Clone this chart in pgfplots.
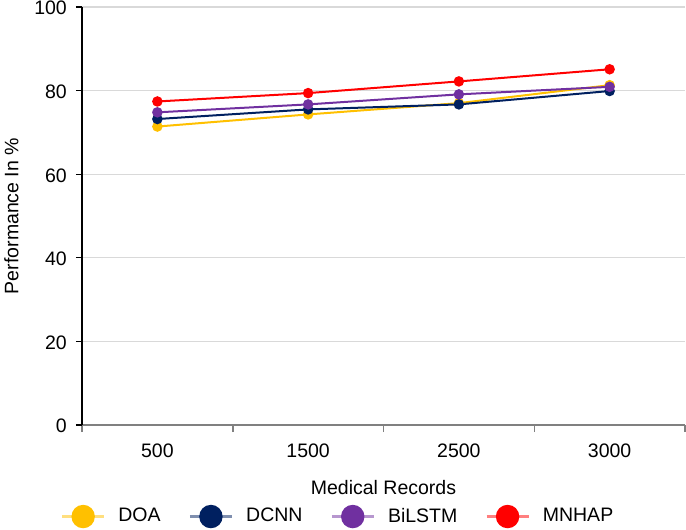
\documentclass[border=0pt]{standalone}
\usepackage{pgfplots}
\pgfplotsset{compat=1.18}
\usepackage{fontspec}
\setmainfont{Liberation Sans}
\definecolor{cDOA}{RGB}{255,192,0}
\definecolor{cDCNN}{RGB}{0,32,96}
\definecolor{cBi}{RGB}{112,48,160}
\definecolor{cMN}{RGB}{255,0,0}
\definecolor{gridc}{RGB}{217,217,217}
\definecolor{axc}{RGB}{128,128,128}
\newcommand{\chfont}{\fontsize{19.5bp}{23bp}\selectfont}
\begin{document}
\chfont
\begin{tikzpicture}
\useasboundingbox (0,0) rectangle (686bp,530bp);
\begin{axis}[
 at={(82bp,105bp)}, anchor=south west,
 scale only axis, width=603bp, height=418bp,
 xmin=-0.5, xmax=3.5, ymin=0, ymax=100,
 axis x line=bottom, axis y line=left,
 x axis line style={axc, line width=2bp, -},
 y axis line style={black, line width=1.2bp, -},
 xtick={0,1,2,3}, xticklabels={500,1500,2500,3000},
 minor xtick={-0.5,0.5,1.5,2.5,3.5},
 ytick={0,20,40,60,80,100},
 tick align=outside,
 major tick length=6bp, minor tick length=7bp,
 major x tick style={draw=none},
 minor x tick style={axc, line width=1.5bp},
 y tick style={black, line width=1.2bp},
 ymajorgrids, major grid style={gridc, line width=1.2bp},
 /pgf/number format/assume math mode=true,
 ticklabel style={font=\chfont, text=black},
 xticklabel style={inner sep=0pt, yshift=-13bp},
 yticklabel style={inner sep=0pt, xshift=-9bp, yshift=-1.2bp},
 xlabel={Medical Records},
 ylabel={Performance In \%},
 label style={font=\chfont},
 xlabel style={at={(axis description cs:0.5,-0.132)}, anchor=north, inner sep=0pt},
 ylabel style={at={(axis description cs:-0.1294,0.5)}, anchor=north, inner sep=0pt},
 every axis plot/.append style={line width=2bp, mark=*, mark size=4.2bp, mark options={solid}},
 legend columns=4,
 legend style={draw=none, fill=none, at={(axis description cs:-0.0353,-0.219)}, anchor=west, inner sep=0pt,
   font=\chfont,
   /tikz/every odd column/.append style={column sep=13bp},
   /tikz/every even column/.append style={column sep=28bp},
   nodes={inner sep=0pt}},
 legend image code/.code={
   \draw[line width=2.5bp, draw opacity=0.5] (0bp,0bp) -- (42bp,0bp);
   \fill (21bp,0bp) circle (10.7bp);
 },
]
\addplot[color=cDOA] coordinates {(0,71.4) (1,74.3) (2,77.0) (3,81.3)};
\addlegendentry{DOA}
\addplot[color=cDCNN] coordinates {(0,73.2) (1,75.5) (2,76.7) (3,79.9)};
\addlegendentry{DCNN}
\addplot[color=cBi] coordinates {(0,74.8) (1,76.7) (2,79.1) (3,80.9)};
\addlegendentry{BiLSTM}
\addplot[color=cMN] coordinates {(0,77.4) (1,79.4) (2,82.2) (3,85.1)};
\addlegendentry{MNHAP}
\end{axis}
\end{tikzpicture}
\end{document}
